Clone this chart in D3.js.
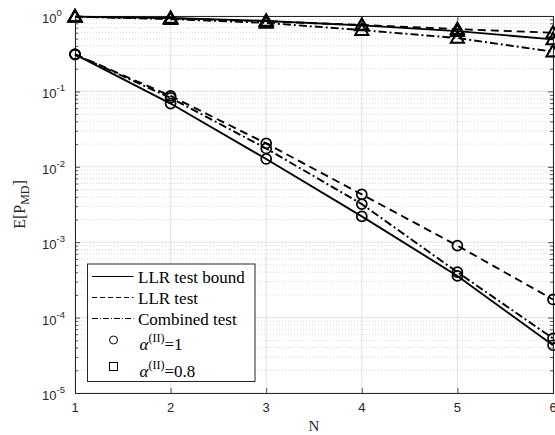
<!DOCTYPE html>
<html>
<head>
<meta charset="utf-8">
<script src="https://cdn.jsdelivr.net/npm/d3@7"></script>
<style>
  body { margin: 0; background: #fff; }
  svg { display: block; }
</style>
</head>
<body>
<div id="chart"></div>
<script>
// x values
var nValues = [1, 2, 3, 4, 5, 6];

// alpha(II) = 1  (circles)
var boundA1 = [0.31, 0.069, 0.0127, 0.0022, 0.000357, 0.000043];
var llrA1 = [0.31, 0.087, 0.0204, 0.0043, 0.00090, 0.000174];
var combA1 = [0.31, 0.082, 0.0175, 0.0032, 0.00040, 0.000053];

// alpha(II) = 0.8  (triangles)
var boundA08 = [0.98, 0.94, 0.86, 0.75, 0.63, 0.49];
var llrA08 = [0.98, 0.93, 0.85, 0.76, 0.67, 0.60];
var combA08 = [0.98, 0.91, 0.81, 0.65, 0.51, 0.336];

var yTickExps = [0, -1, -2, -3, -4, -5];
var xTicks = [1, 2, 3, 4, 5, 6];
var lineLabels = ["LLR test bound", "LLR test", "Combined test"];

var W = 555, H = 435;
var margin = { top: 16, right: 2, bottom: 42, left: 75 },
    width = W - margin.left - margin.right,
    height = H - margin.top - margin.bottom;

var axisCol = "#262626";
var dashes = { solid: null, dashed: "8,5", dashdot: "8,3,2,3" };

var svg = d3.select("#chart").append("svg")
    .attr("width", W).attr("height", H)
    .append("g")
    .attr("transform", "translate(" + margin.left + "," + margin.top + ")");

var x = d3.scaleLinear().domain([1, 6]).range([0, width]);
var y = d3.scaleLog().domain([1e-5, 1]).range([height, 0]);

// minor grid
var minorVals = [];
for (var e = -5; e < 0; e++)
    for (var m = 2; m <= 9; m++) minorVals.push(m * Math.pow(10, e));

svg.append("g").selectAll("line").data(minorVals).enter().append("line")
    .attr("x1", 0).attr("x2", width)
    .attr("y1", function (d) { return y(d) }).attr("y2", function (d) { return y(d) })
    .attr("stroke", "#cfcfcf").attr("stroke-width", 0.8)
    .attr("stroke-dasharray", "1,2");

// major grid
svg.append("g").selectAll("line").data(yTickExps).enter().append("line")
    .attr("x1", 0).attr("x2", width)
    .attr("y1", function (d) { return y(Math.pow(10, d)) })
    .attr("y2", function (d) { return y(Math.pow(10, d)) })
    .attr("stroke", "#e3e3e3").attr("stroke-width", 1);
svg.append("g").selectAll("line").data(xTicks).enter().append("line")
    .attr("x1", function (d) { return x(d) }).attr("x2", function (d) { return x(d) })
    .attr("y1", 0).attr("y2", height)
    .attr("stroke", "#e3e3e3").attr("stroke-width", 1);

// axes (ticks inside)
var xAxis = d3.axisBottom(x).tickValues(xTicks).tickSize(-5).tickFormat("");
var xAxisTop = d3.axisTop(x).tickValues(xTicks).tickSize(-5).tickFormat("");
var yTickVals = yTickExps.map(function (d) { return Math.pow(10, d) });
var yAxis = d3.axisLeft(y).tickValues(yTickVals).tickSize(-5).tickFormat("");
var yAxisR = d3.axisRight(y).tickValues(yTickVals).tickSize(-5).tickFormat("");
var yMinor = d3.axisLeft(y).tickValues(minorVals).tickSize(-3).tickFormat("");
var yMinorR = d3.axisRight(y).tickValues(minorVals).tickSize(-3).tickFormat("");

function styleAxis(g) {
    g.selectAll("path").attr("stroke", axisCol).attr("stroke-width", 1);
    g.selectAll("line").attr("stroke", axisCol).attr("stroke-width", 0.8);
}
svg.append("g").attr("transform", "translate(0," + height + ")").call(xAxis).call(styleAxis);
svg.append("g").call(xAxisTop).call(styleAxis);
svg.append("g").call(yAxis).call(styleAxis);
svg.append("g").call(yMinor).call(styleAxis);
svg.append("g").attr("transform", "translate(" + width + ",0)").call(yAxisR).call(styleAxis);
svg.append("g").attr("transform", "translate(" + width + ",0)").call(yMinorR).call(styleAxis);

// tick labels
svg.append("g").selectAll("text").data(xTicks).enter().append("text")
    .attr("x", function (d) { return x(d) }).attr("y", height + 19)
    .attr("text-anchor", "middle")
    .attr("font-family", "Liberation Sans, Arial, sans-serif").attr("font-size", 13)
    .attr("fill", axisCol)
    .text(function (d) { return d });

var yl = svg.append("g").selectAll("text").data(yTickExps).enter().append("text")
    .attr("x", -33).attr("y", function (d) { return y(Math.pow(10, d)) + 7 })
    .attr("font-family", "Liberation Sans, Arial, sans-serif").attr("font-size", 13)
    .attr("fill", axisCol);
yl.append("tspan").text("10");
yl.append("tspan").attr("dy", -7).attr("font-size", 9.5)
    .text(function (d) { return d === 0 ? "0" : "-" + (-d) });

// axis labels
svg.append("text")
    .attr("x", width / 2).attr("y", height + 38)
    .attr("text-anchor", "middle")
    .attr("font-family", "Liberation Serif, Times New Roman, serif").attr("font-size", 15)
    .attr("fill", axisCol).text("N");

var ylab = svg.append("text")
    .attr("transform", "translate(" + (-50) + "," + (height / 2) + ") rotate(-90)")
    .attr("text-anchor", "middle")
    .attr("font-family", "Liberation Serif, Times New Roman, serif").attr("font-size", 16)
    .attr("fill", axisCol);
ylab.append("tspan").text("E[P");
ylab.append("tspan").attr("dy", 4).attr("font-size", 12).text("MD");
ylab.append("tspan").attr("dy", -4).text("]");

// series
var series = [
    { vals: boundA1, dash: dashes.solid, marker: "circle" },
    { vals: llrA1, dash: dashes.dashed, marker: "circle" },
    { vals: combA1, dash: dashes.dashdot, marker: "circle" },
    { vals: boundA08, dash: dashes.solid, marker: "triangle" },
    { vals: llrA08, dash: dashes.dashed, marker: "triangle" },
    { vals: combA08, dash: dashes.dashdot, marker: "triangle" }
];

var line = d3.line()
    .x(function (d, i) { return x(nValues[i]) })
    .y(function (d) { return y(d) });

svg.selectAll("myLines").data(series).enter().append("path")
    .attr("d", function (d) { return line(d.vals) })
    .attr("fill", "none").attr("stroke", "#000").attr("stroke-width", 1.9)
    .attr("stroke-dasharray", function (d) { return d.dash });

var triSym = d3.symbol().type(d3.symbolTriangle).size(75);

series.forEach(function (s) {
    var g = svg.append("g");
    var pts = g.selectAll("m").data(s.vals).enter();
    if (s.marker === "circle") {
        pts.append("circle")
            .attr("cx", function (d, i) { return x(nValues[i]) })
            .attr("cy", function (d) { return y(d) })
            .attr("r", 5).attr("fill", "none")
            .attr("stroke", "#000").attr("stroke-width", 1.7);
    } else {
        pts.append("path")
            .attr("d", triSym)
            .attr("transform", function (d, i) { return "translate(" + x(nValues[i]) + "," + (y(d) + 1) + ")" })
            .attr("fill", "none").attr("stroke", "#000").attr("stroke-width", 2);
    }
});

// legend
var leg = svg.append("g").attr("transform", "translate(" + (87.5 - margin.left) + "," + (264 - margin.top) + ")");
leg.append("rect").attr("width", 167.5).attr("height", 117.5)
    .attr("fill", "#fff").attr("stroke", axisCol).attr("stroke-width", 1);

var legDash = [dashes.solid, "5,3", "6,2,1,2"];
var legRows = [12.5, 33.5, 54.5];
lineLabels.forEach(function (lab, i) {
    leg.append("line").attr("x1", 4.5).attr("x2", 46)
        .attr("y1", legRows[i]).attr("y2", legRows[i])
        .attr("stroke", "#000").attr("stroke-width", 1)
        .attr("stroke-dasharray", legDash[i]);
    leg.append("text").attr("x", 50.5).attr("y", legRows[i] + 6)
        .attr("font-family", "Liberation Serif, Times New Roman, serif").attr("font-size", 17)
        .attr("fill", "#000").text(lab);
});

var alphaRows = [{ y: 76, val: "=1", mk: "circle" }, { y: 102.5, val: "=0.8", mk: "square" }];
alphaRows.forEach(function (r) {
    if (r.mk === "circle") {
        leg.append("circle").attr("cx", 26).attr("cy", r.y).attr("r", 4)
            .attr("fill", "none").attr("stroke", "#000").attr("stroke-width", 1);
    } else {
        leg.append("rect").attr("x", 22).attr("y", r.y - 4).attr("width", 8).attr("height", 8)
            .attr("fill", "none").attr("stroke", "#000").attr("stroke-width", 1);
    }
    var t = leg.append("text").attr("x", 52).attr("y", r.y + 10)
        .attr("font-family", "Liberation Serif, Times New Roman, serif").attr("font-size", 17)
        .attr("fill", "#000");
    t.append("tspan").attr("font-style", "italic").text("\u03b1");
    t.append("tspan").attr("dy", -8).attr("font-size", 12).text("(II)");
    t.append("tspan").attr("dy", 8).text(r.val);
});
</script>
</body>
</html>
